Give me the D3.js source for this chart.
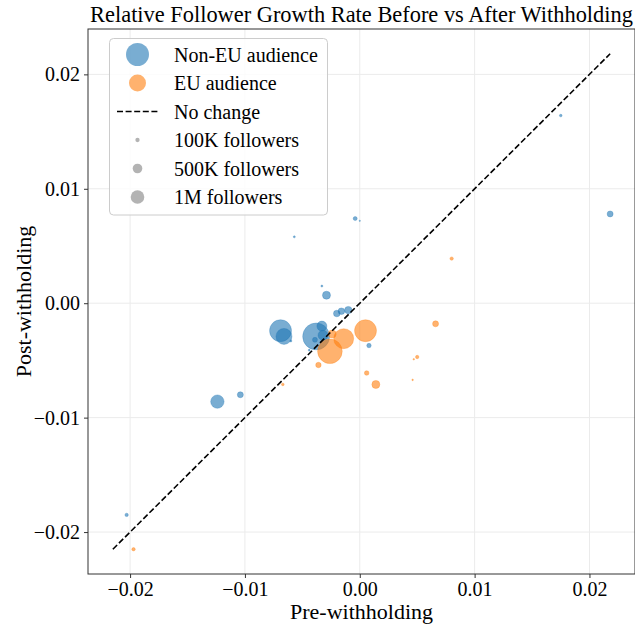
<!DOCTYPE html>
<html>
<head>
<meta charset="utf-8">
<script src="https://cdn.jsdelivr.net/npm/d3@7"></script>
<style>
  body { margin: 0; background: #fff; }
  svg text { font-family: "Liberation Serif", "Times New Roman", serif; fill: #000; }
  .grid line { stroke: #ebebeb; stroke-width: 1; }
  .axis path, .axis line { stroke: #333; }
</style>
</head>
<body>
<div id="chart"></div>
<script>
// pre / post growth rates and follower counts
const nonEuPre  = [-0.0203, -0.0124, -0.0104, -0.0069, -0.0066, -0.0060, -0.0057, -0.0038, -0.0033, -0.0032, -0.0039, -0.0044, -0.0033, -0.0029, -0.0020, -0.0016, -0.0010, 0.0008, -0.0004, 0.0000, 0.0175, 0.0218];
const nonEuPost = [-0.0185, -0.0086, -0.0080, -0.0024, -0.0029, -0.0033, 0.0058, -0.0029, -0.0020, -0.0028, -0.0032, -0.0041, 0.0015, 0.0007, -0.0009, -0.0007, -0.0006, -0.0037, 0.0074, 0.0072, 0.0164, 0.0078];
const nonEuFollowers = [62e3, 970e3, 195e3, 2.6e6, 1.38e6, 22e3, 22e3, 3.9e6, 540e3, 540e3, 135e3, 22e3, 22e3, 346e3, 235e3, 235e3, 296e3, 105e3, 86e3, 10e3, 37e3, 195e3];

const euPre  = [-0.0197, -0.0067, -0.0036, -0.0026, -0.0024, -0.0014, 0.0005, 0.0006, 0.0014, 0.0046, 0.0047, 0.0050, 0.0066, 0.0080];
const euPost = [-0.0215, -0.0071, -0.0054, -0.0042, -0.0027, -0.0031, -0.0024, -0.0061, -0.0071, -0.0067, -0.0049, -0.0047, -0.0018, 0.0039];
const euFollowers = [62e3, 37e3, 160e3, 3.27e6, 346e3, 2.16e6, 2.6e6, 115e3, 346e3, 14e3, 14e3, 62e3, 195e3, 62e3];

const xTicks = [-0.02, -0.01, 0.00, 0.01, 0.02];
const yTicks = [-0.02, -0.01, 0.00, 0.01, 0.02];
const sizeLegend = [[1e5, "100K followers"], [5e5, "500K followers"], [1e6, "1M followers"]];

const W = 635, H = 627;
const m = { left: 88, right: 0, top: 29, bottom: 53 };
const blue = "#1f77b4", orange = "#ff7f0e";

const svg = d3.select("#chart").append("svg").attr("width", W).attr("height", H);

const allVals = nonEuPre.concat(nonEuPost, euPre, euPost);
const lo = d3.min(allVals), hi = d3.max(allVals);
const pad = (hi - lo) * 0.05;

const x = d3.scaleLinear().domain([lo - pad, hi + pad]).range([m.left, W - m.right]);
const y = d3.scaleLinear().domain([lo - pad, hi + pad]).range([H - m.bottom, m.top]);
const r = f => Math.sqrt(f) * 0.0068;
const fmt = d => d3.format(".2f")(d).replace("-", "\u2212");

// grid
svg.append("g").attr("class", "grid")
  .selectAll("line.v").data(xTicks).enter().append("line")
  .attr("x1", d => x(d)).attr("x2", d => x(d)).attr("y1", m.top).attr("y2", H - m.bottom);
svg.append("g").attr("class", "grid")
  .selectAll("line.h").data(yTicks).enter().append("line")
  .attr("y1", d => y(d)).attr("y2", d => y(d)).attr("x1", m.left).attr("x2", W - m.right);

// points
const pts = (pre, post, fol, c) => pre.map((v, i) => ({ x: v, y: post[i], f: fol[i], c }));
const data = pts(nonEuPre, nonEuPost, nonEuFollowers, blue).concat(pts(euPre, euPost, euFollowers, orange));

svg.append("g").selectAll("circle").data(data).enter().append("circle")
  .attr("cx", d => x(d.x)).attr("cy", d => y(d.y)).attr("r", d => r(d.f))
  .attr("fill", d => d.c).attr("fill-opacity", 0.6)
  .attr("stroke", d => d.c).attr("stroke-opacity", 0.6).attr("stroke-width", 0.5);

// no change line
svg.append("line")
  .attr("x1", x(lo)).attr("y1", y(lo)).attr("x2", x(hi)).attr("y2", y(hi))
  .attr("stroke", "#000").attr("stroke-width", 1.6).attr("stroke-dasharray", "6,2.6");

// axes
svg.append("g").attr("class", "axis")
  .attr("transform", `translate(0,${H - m.bottom})`)
  .call(d3.axisBottom(x).tickValues(xTicks).tickFormat(fmt).tickSize(4).tickSizeOuter(0).tickPadding(4));
svg.append("g").attr("class", "axis")
  .attr("transform", `translate(${m.left},0)`)
  .call(d3.axisLeft(y).tickValues(yTicks).tickFormat(fmt).tickSize(4).tickSizeOuter(0).tickPadding(4));
svg.selectAll(".axis text").style("font-size", "20px").style("font-family", "Liberation Serif, serif");
svg.selectAll(".axis .domain").remove();

// frame
svg.append("rect").attr("x", m.left).attr("y", m.top)
  .attr("width", W - m.right - m.left).attr("height", H - m.bottom - m.top)
  .attr("fill", "none").attr("stroke", "#333").attr("stroke-width", 1);

// titles
svg.append("text").attr("x", (m.left + W - m.right) / 2).attr("y", 22)
  .attr("text-anchor", "middle").style("font-size", "22.4px")
  .text("Relative Follower Growth Rate Before vs After Withholding");
svg.append("text").attr("x", (m.left + W - m.right) / 2).attr("y", 619)
  .attr("text-anchor", "middle").style("font-size", "22px").text("Pre-withholding");
svg.append("text").attr("transform", `translate(31,${(m.top + H - m.bottom) / 2}) rotate(-90)`)
  .attr("text-anchor", "middle").style("font-size", "22px").text("Post-withholding");

// legend
const lg = svg.append("g");
lg.append("rect").attr("x", 109.5).attr("y", 38.5).attr("width", 218).attr("height", 176.5)
  .attr("rx", 4).attr("fill", "#fff").attr("fill-opacity", 0.8).attr("stroke", "#ccc");
const rowY = i => 54.5 + i * 28.5;
const mx = 137.5, tx = 174;
lg.append("circle").attr("cx", mx).attr("cy", rowY(0)).attr("r", 11.5).attr("fill", blue).attr("fill-opacity", 0.6);
lg.append("circle").attr("cx", mx).attr("cy", rowY(1)).attr("r", 8.5).attr("fill", orange).attr("fill-opacity", 0.6);
lg.append("line").attr("x1", 117).attr("x2", 158).attr("y1", rowY(2)).attr("y2", rowY(2))
  .attr("stroke", "#000").attr("stroke-width", 1.6).attr("stroke-dasharray", "6,2.6");
sizeLegend.forEach((s, i) => {
  lg.append("circle").attr("cx", mx).attr("cy", rowY(3 + i)).attr("r", r(s[0]))
    .attr("fill", "#808080").attr("fill-opacity", 0.6);
});
const labels = ["Non-EU audience", "EU audience", "No change"].concat(sizeLegend.map(s => s[1]));
lg.selectAll("text.l").data(labels).enter().append("text")
  .attr("x", tx).attr("y", (d, i) => rowY(i)).attr("dy", "0.35em")
  .style("font-size", "20px").text(d => d);
</script>
</body>
</html>
